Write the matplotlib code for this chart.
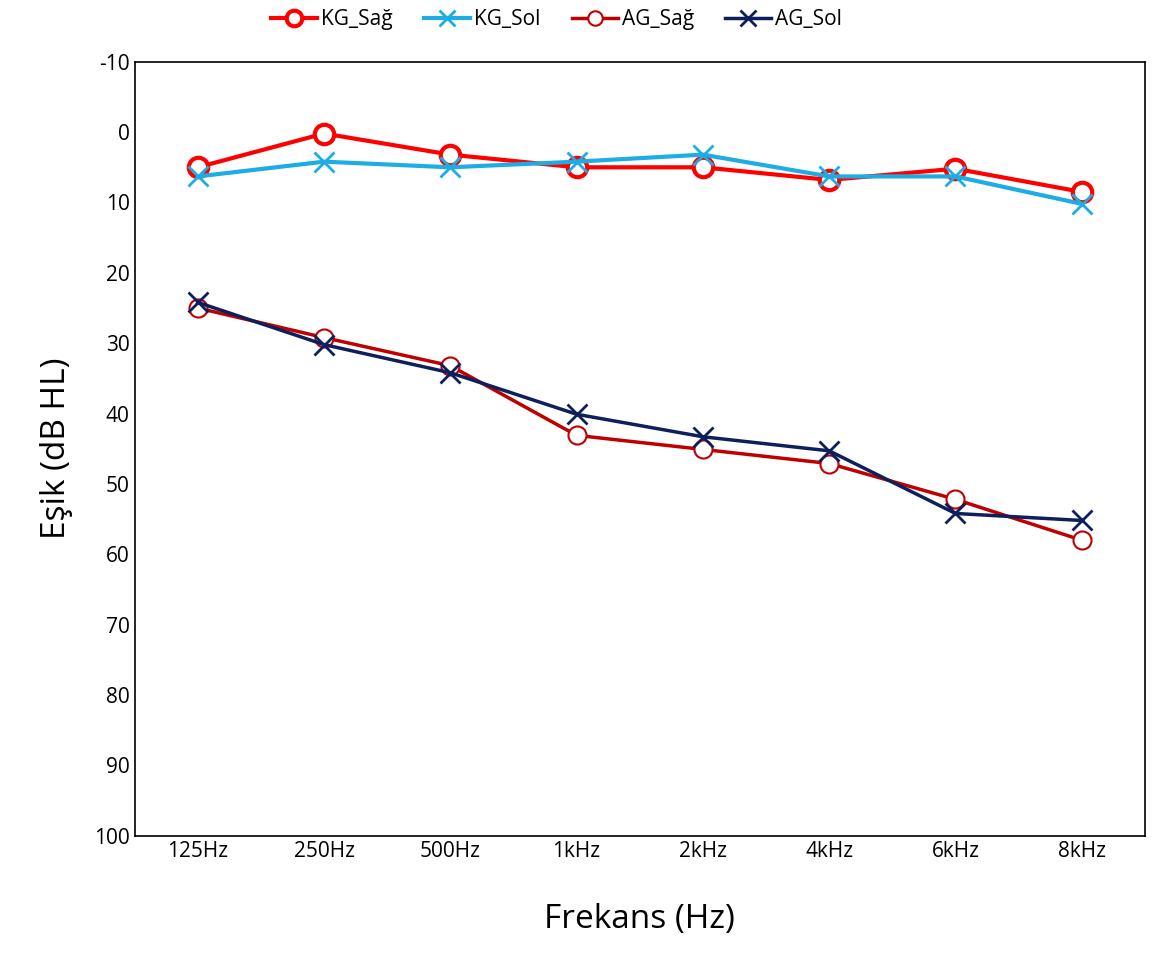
import matplotlib.pyplot as plt

plt.rcParams['font.family'] = ['Open Sans', 'DejaVu Sans']
plt.rcParams['axes.unicode_minus'] = False

freqs = ['125Hz', '250Hz', '500Hz', '1kHz', '2kHz', '4kHz', '6kHz', '8kHz']
kg_sag = [5, 0.2, 3.2, 5, 5, 6.8, 5.2, 8.5]
kg_sol = [6.3, 4.2, 5, 4.2, 3.2, 6.3, 6.3, 10.2]
ag_sag = [25, 29.2, 33.2, 43.1, 45.1, 47.1, 52.2, 58]
ag_sol = [24.2, 30.2, 34.2, 40.1, 43.3, 45.3, 54.2, 55.2]

fig = plt.figure(figsize=(11.6, 9.65), dpi=100)
ax = fig.add_axes([0.116, 0.134, 0.871, 0.802])
x = range(len(freqs))

ax.plot(x, kg_sag, color='#ff0000', lw=3, marker='o', ms=14, mfc='white', mec='#ff0000', mew=3, label='KG_Sağ')
ax.plot(x, kg_sol, color='#1cade4', lw=3, marker='x', ms=14, mew=2, label='KG_Sol')
ax.plot(x, ag_sag, color='#c00000', lw=2.5, marker='o', ms=13, mfc='white', mec='#c00000', mew=1.5, label='AG_Sağ')
ax.plot(x, ag_sol, color='#0d1f5c', lw=2.5, marker='x', ms=14, mew=2, label='AG_Sol')

ax.set_ylim(100, -10)
ax.set_yticks(range(-10, 101, 10))
ax.set_xlim(-0.5, len(freqs) - 0.5)
ax.set_xticks(list(x))
ax.set_xticklabels(freqs)
ax.tick_params(labelsize=15, length=0)
ax.set_xlabel('Frekans (Hz)', fontsize=24, labelpad=30)
ax.set_ylabel('Eşik (dB HL)', fontsize=24, labelpad=15)
for s in ax.spines.values():
    s.set_linewidth(1.2)

fig.legend(loc='upper center', ncol=4, bbox_to_anchor=(0.48, 1.01), frameon=False,
           fontsize=15, handlelength=2.2, columnspacing=1.5, handletextpad=0.2,
           markerscale=0.8)

fig.savefig('out.png')
